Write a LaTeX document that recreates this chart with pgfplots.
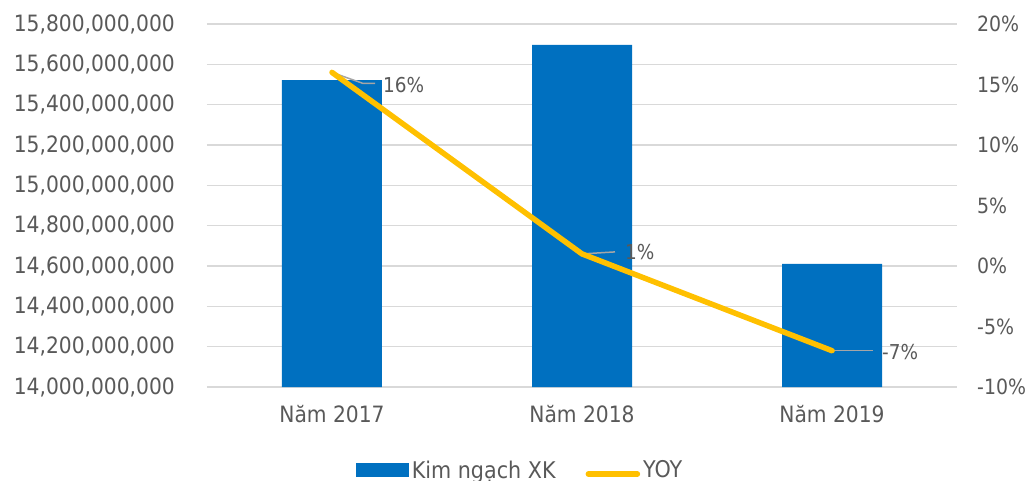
\documentclass[border=0pt]{standalone}
\usepackage{fontspec}
\setmainfont{DejaVu Sans Condensed}
\usepackage{pgfplots}
\pgfplotsset{compat=1.18}
\definecolor{barblue}{HTML}{0070C0}
\definecolor{yoy}{HTML}{FFC000}
\definecolor{txt}{HTML}{595959}
\definecolor{gridc}{HTML}{D9D9D9}
\definecolor{leader}{HTML}{A6A6A6}

\pgfplotsset{
  base/.style={
    scale only axis, width=750pt, height=363pt,
    at={(0,0)}, anchor=south west,
    xmin=-0.5, xmax=2.5,
    tick style={draw=none},
    axis line style={draw=none},
    scaled y ticks=false,
    /pgf/number format/assume math mode=true,
    tick label style={font=\fontsize{22.5}{27}\selectfont, text=txt},
  },
}

\begin{document}
\begin{tikzpicture}[font=\fontsize{22.5}{27}\selectfont]
% left axis: export value
\begin{axis}[base,
  axis x line*=bottom, axis y line*=left,
  ymin=14e9, ymax=15.8e9,
  ytick={14e9,14.2e9,14.4e9,14.6e9,14.8e9,15e9,15.2e9,15.4e9,15.6e9,15.8e9},
  yticklabels={{14,000,000,000},{14,200,000,000},{14,400,000,000},{14,600,000,000},{14,800,000,000},{15,000,000,000},{15,200,000,000},{15,400,000,000},{15,600,000,000},{15,800,000,000}},
  yticklabel style={inner sep=0pt, anchor=east, xshift=-32pt},
  xtick={0,1,2},
  xticklabels={Năm 2017, Năm 2018, Năm 2019},
  xticklabel style={inner sep=0pt, anchor=north, yshift=-18pt},
  ymajorgrids, grid style={gridc, line width=1.5pt},
]
\addplot[ybar, bar width=100pt, fill=barblue, draw=none]
  coordinates {(0,15.522e9) (1,15.696e9) (2,14.610e9)};
\end{axis}
% right axis: YOY
\begin{axis}[base,
  axis x line=none, axis y line*=right,
  ymin=-10, ymax=20,
  ytick={-10,-5,0,5,10,15,20},
  yticklabel={\pgfmathprintnumber{\tick}\%},
  yticklabel style={inner sep=0pt, anchor=west, xshift=20pt, font=\fontsize{21}{25}\selectfont},
  legend style={draw=none, fill=none, legend columns=2,
    at={(0.199,-0.2287)}, anchor=west, inner sep=0pt,
    font=\fontsize{23}{27}\selectfont, text=txt,
    /tikz/every even column/.append style={column sep=27pt},
    nodes={inner sep=3pt}},
]
\draw[leader, line width=1.5pt] (axis cs:0,16) -- ++(31pt,-11pt) -- ++(12pt,0pt);
\draw[leader, line width=1.5pt] (axis cs:1,1) -- ++(33pt,2pt);
\draw[leader, line width=1.5pt] (axis cs:2,-7) -- ++(41pt,0pt);
\addlegendimage{legend image code/.code={\fill[barblue] (0pt,-6.5pt) rectangle (52pt,6.5pt);}}
\addlegendentry{Kim ngạch XK}
\addplot[yoy, line width=5.5pt, line cap=round, line join=round,
  legend image code/.code={\draw[yoy, line width=5.5pt, line cap=round] (3pt,-4pt) -- (52pt,-4pt);}]
  coordinates {(0,16) (1,1) (2,-7)};
\addlegendentry{YOY}
\node[anchor=west, inner sep=0pt, text=txt, font=\fontsize{20.5}{24}\selectfont] at ([xshift=51pt,yshift=-13pt]axis cs:0,16) {16\%};
\node[anchor=west, inner sep=0pt, text=txt, font=\fontsize{20.5}{24}\selectfont] at ([xshift=43pt,yshift=2pt]axis cs:1,1) {1\%};
\node[anchor=west, inner sep=0pt, text=txt, font=\fontsize{20.5}{24}\selectfont] at ([xshift=50pt,yshift=-1pt]axis cs:2,-7) {-7\%};
\end{axis}
\pgfresetboundingbox
\path (-207pt,-93pt) rectangle (821pt,387pt);
\end{tikzpicture}
\end{document}
